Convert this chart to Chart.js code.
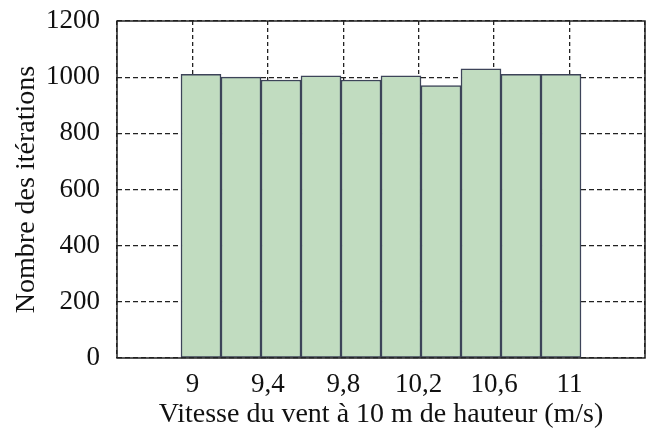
<!DOCTYPE html>
<html>
<head>
<meta charset="utf-8">
<script src="https://cdn.jsdelivr.net/npm/chart.js@4.4.1/dist/chart.umd.min.js"></script>
<style>
  html, body { margin: 0; padding: 0; background: #ffffff; }
  #wrap { width: 656px; height: 436px; position: relative; }
</style>
</head>
<body>
<div id="wrap"><canvas id="histChart"></canvas></div>
<script>
// histogram data (bins of 0.2 m/s between 9 and 11)
const binCenters = [9.1, 9.3, 9.5, 9.7, 9.9, 10.1, 10.3, 10.5, 10.7, 10.9]
const counts = [1010, 1000, 990, 1005, 990, 1005, 970, 1030, 1010, 1010]

// axis ticks
const xTickValues = [8.6, 9, 9.4, 9.8, 10.2, 10.6, 11, 11.4]
const xTickLabels = ["", "9", "9,4", "9,8", "10,2", "10,6", "11", ""]
const yTickValues = [0, 200, 400, 600, 800, 1000, 1200]

Chart.defaults.font.family = "'Liberation Serif', 'Times New Roman', serif"
Chart.defaults.font.size = 27
Chart.defaults.color = "#111111"

// box around the plot area
const frame = {
  id: "frame",
  afterDraw(chart) {
    const { ctx, chartArea: a } = chart
    ctx.save()
    ctx.strokeStyle = "#222222"
    ctx.lineWidth = 1.5
    ctx.setLineDash([])
    ctx.strokeRect(a.left, a.top, a.right - a.left, a.bottom - a.top)
    ctx.restore()
  },
}

const gridStyle = {
  color: "#222222",
  lineWidth: 1.3,
  drawTicks: false,
  offset: false,
}

new Chart(document.getElementById("histChart"), {
  type: "bar",
  data: {
    datasets: [
      {
        data: binCenters.map((c, i) => ({ x: c, y: counts[i] })),
        xAxisID: "xb",
        yAxisID: "y",
        backgroundColor: "#c1dcc0",
        borderColor: "#3d4459",
        borderWidth: 1.5,
        borderSkipped: false,
        barPercentage: 1,
        categoryPercentage: 1,
      },
    ],
  },
  options: {
    responsive: true,
    maintainAspectRatio: false,
    animation: false,
    devicePixelRatio: 1,
    layout: { padding: { top: 21, right: 7, left: 0, bottom: 0 } },
    plugins: {
      legend: { display: false },
      tooltip: { enabled: false },
    },
    scales: {
      x: {
        type: "linear",
        position: "bottom",
        offset: false,
        min: 8.6,
        max: 11.4,
        afterBuildTicks: (scale) => {
          scale.ticks = xTickValues.map((v) => ({ value: v }))
        },
        afterFit: (scale) => {
          scale.height = 78
        },
        ticks: {
          padding: 11,
          maxRotation: 0,
          autoSkip: false,
          callback: (value, index) => xTickLabels[index],
        },
        grid: gridStyle,
        border: { display: false, dash: [4, 3] },
        title: {
          display: true,
          text: "Vitesse du vent à 10 m de hauteur (m/s)",
          font: { size: 28 },
          padding: { top: 0, bottom: 5 },
        },
      },
      // the bar layer sits on its own, slightly wider scale (as in the source figure)
      xb: {
        type: "linear",
        display: false,
        offset: false,
        min: 8.68,
        max: 11.32,
        afterBuildTicks: (scale) => {
          scale.ticks = []
        },
      },
      y: {
        min: 0,
        max: 1200,
        afterBuildTicks: (scale) => {
          scale.ticks = yTickValues.map((v) => ({ value: v }))
        },
        afterFit: (scale) => {
          scale.width = 117
          scale.paddingTop = 0
          scale.paddingBottom = 0
        },
        ticks: {
          padding: 17,
          callback: (value) => String(value),
        },
        grid: gridStyle,
        border: { display: false, dash: [5, 3] },
        title: {
          display: true,
          text: "Nombre des itérations",
          font: { size: 28 },
          padding: { top: 10, bottom: 0 },
        },
      },
    },
  },
  plugins: [frame],
})
</script>
</body>
</html>
